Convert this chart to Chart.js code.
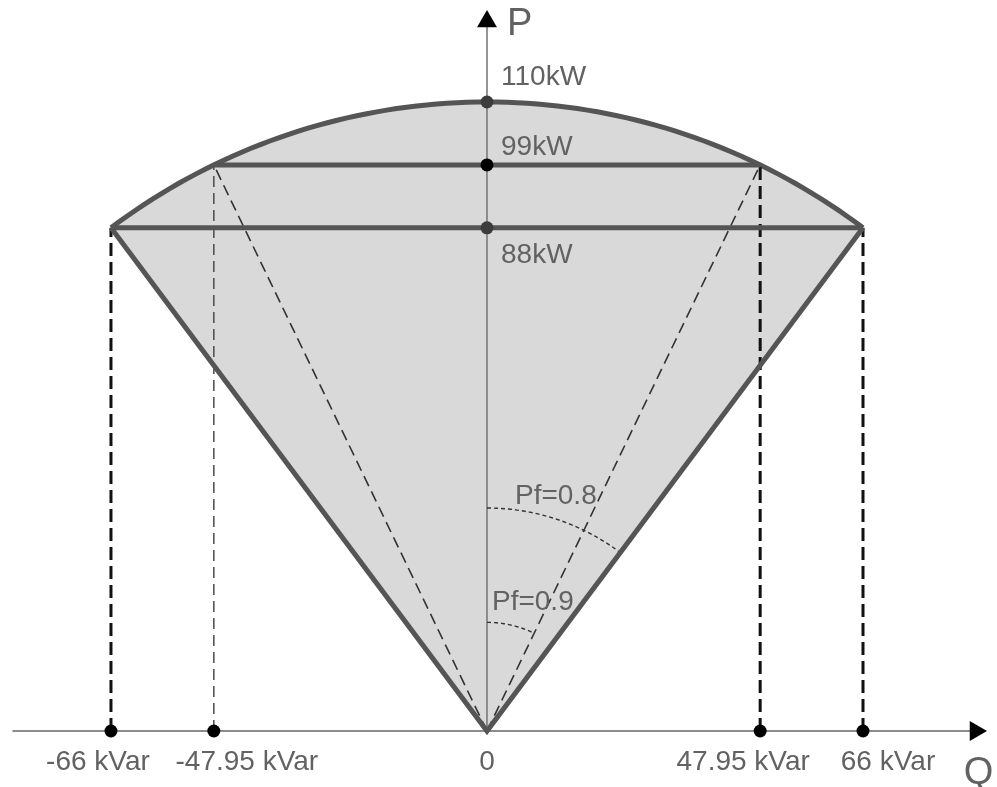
<!DOCTYPE html>
<html>
<head>
<meta charset="utf-8">
<script src="https://cdn.jsdelivr.net/npm/chart.js@4.4.1/dist/chart.umd.min.js"></script>
<style>
  html, body { margin: 0; padding: 0; background: #fff; }
  #wrap { width: 997px; height: 787px; position: relative; }
</style>
</head>
<body>
<div id="wrap"><canvas id="pqChart"></canvas></div>
<script>
// --- data ---
const sMax = 110;          // apparent power limit (kVA), arc radius
const pLimit = 88;         // P at Pf=0.8
const pMid = 99;           // P at Pf=0.9
const qLimit = 66;         // Q at Pf=0.8
const qMid = 47.95;        // Q at Pf=0.9

const qTicks = [-66, -47.95, 0, 47.95, 66];
const qTickLabels = ['-66 kVar', '-47.95 kVar', '0', '47.95 kVar', '66 kVar'];
const pTicks = [110, 99, 88];
const pTickLabels = ['110kW', '99kW', '88kW'];
const pfValues = [0.8, 0.9];
const pfLabels = ['Pf=0.8', 'Pf=0.9'];

// --- layout / style ---
const xRange = [-85.48, 89.52];
const yRange = [-9.79, 127.84];
const axisEnd = { qMin: -83.3, qMax: 85.75, pMax: 124.1 };
const pfArcRadius = [39, 19];
const qLabelDx = [-13, 33, 0, -17, 25];
const pLabelDy = [-25, -18, 27];
const pfLabelPos = [{ dx: 28, dy: -12 }, { dx: 5, dy: -20 }];

const lineGrey = '#555555';
const fillGrey = '#d9d9d9';
const axisGrey = '#8c8c8c';
const textGrey = '#626262';
const font = '"Liberation Sans", Arial, sans-serif';

// points along a circle arc centred on the origin, angle measured from the P axis
function arcPoints(r, fromDeg, toDeg, n) {
    const pts = [];
    for (let i = 0; i <= n; i++) {
        const a = (fromDeg + (toDeg - fromDeg) * i / n) * Math.PI / 180;
        pts.push({ x: r * Math.sin(a), y: r * Math.cos(a) });
    }
    return pts;
}

const edgeDeg = Math.atan2(qLimit, pLimit) * 180 / Math.PI;

function seg(data, color, width, dash, order) {
    return {
        data: data,
        borderColor: color,
        borderWidth: width,
        borderDash: dash || [],
        pointRadius: 0,
        fill: false,
        order: order
    };
}

const datasets = [
    // 0: outer arc, filled down to the V below it
    {
        data: arcPoints(sMax, -edgeDeg, edgeDeg, 80),
        borderColor: lineGrey,
        borderWidth: 5,
        backgroundColor: fillGrey,
        pointRadius: 0,
        fill: '+1',
        order: 50
    },
    // 1: V from origin
    seg([{ x: -qLimit, y: pLimit }, { x: 0, y: 0 }, { x: qLimit, y: pLimit }], lineGrey, 5, null, 12),
    // axes
    seg([{ x: axisEnd.qMin, y: 0 }, { x: axisEnd.qMax, y: 0 }], axisGrey, 2, null, 40),
    seg([{ x: 0, y: 0 }, { x: 0, y: axisEnd.pMax }], '#7a7a7a', 1.6, null, 40),
    // horizontal limits
    seg([{ x: -qLimit, y: pLimit }, { x: qLimit, y: pLimit }], lineGrey, 5, null, 10),
    seg([{ x: -qMid, y: pMid }, { x: qMid, y: pMid }], lineGrey, 5, null, 10),
    // dashed helpers
    seg([{ x: 0, y: 0 }, { x: -qMid, y: pMid }], '#333333', 1.6, [11, 6], 30),
    seg([{ x: 0, y: 0 }, { x: qMid, y: pMid }], '#333333', 1.6, [11, 6], 30),
    seg([{ x: -qMid, y: 0 }, { x: -qMid, y: pMid }], '#555555', 1.6, [11, 6], 30),
    seg([{ x: qMid, y: 0 }, { x: qMid, y: pMid }], '#111111', 3, [13, 6], 30),
    seg([{ x: -qLimit, y: 0 }, { x: -qLimit, y: pLimit }], '#111111', 3, [13, 6], 30),
    seg([{ x: qLimit, y: 0 }, { x: qLimit, y: pLimit }], '#111111', 3, [13, 6], 30),
    // power factor angle marks
    seg(arcPoints(pfArcRadius[0], 0, Math.acos(pfValues[0]) * 180 / Math.PI, 30), '#333333', 1.4, [4, 3], 25),
    seg(arcPoints(pfArcRadius[1], 0, Math.acos(pfValues[1]) * 180 / Math.PI, 20), '#333333', 1.4, [4, 3], 25),
    // arrow heads
    {
        data: [{ x: axisEnd.qMax, y: 0 }],
        showLine: false,
        pointStyle: 'triangle',
        rotation: 90,
        pointRadius: 11.5,
        backgroundColor: '#000',
        borderWidth: 0,
        order: 2
    },
    {
        data: [{ x: 0, y: axisEnd.pMax }],
        showLine: false,
        pointStyle: 'triangle',
        rotation: 0,
        pointRadius: 11.5,
        backgroundColor: '#000',
        borderWidth: 0,
        order: 2
    },
    // dots on the axes
    {
        data: qTicks.filter(q => q !== 0).map(q => ({ x: q, y: 0 })),
        showLine: false,
        pointRadius: 6.5,
        backgroundColor: '#000',
        borderWidth: 0,
        order: 0
    },
    {
        data: pTicks.map(p => ({ x: 0, y: p })),
        showLine: false,
        pointRadius: 6.5,
        backgroundColor: pTicks.map(p => (p === pMid ? '#000' : '#3c3c3c')),
        borderWidth: 0,
        order: 0
    }
];

const labelPlugin = {
    id: 'pqLabels',
    afterDatasetsDraw(chart) {
        const { ctx, scales: { x, y } } = chart;
        const x0 = x.getPixelForValue(0);
        const y0 = y.getPixelForValue(0);
        ctx.save();
        ctx.fillStyle = textGrey;
        ctx.textBaseline = 'middle';

        ctx.font = '28px ' + font;
        ctx.textAlign = 'center';
        qTicks.forEach((q, i) => {
            ctx.fillText(qTickLabels[i], x.getPixelForValue(q) + qLabelDx[i], y0 + 31);
        });

        ctx.textAlign = 'left';
        pTicks.forEach((p, i) => {
            ctx.fillText(pTickLabels[i], x0 + 14, y.getPixelForValue(p) + pLabelDy[i]);
        });

        pfValues.forEach((pf, i) => {
            const top = y.getPixelForValue(pfArcRadius[i]);
            ctx.fillText(pfLabels[i], x0 + pfLabelPos[i].dx, top + pfLabelPos[i].dy);
        });

        ctx.font = '38px ' + font;
        ctx.textAlign = 'left';
        ctx.fillText('P', x0 + 20, y.getPixelForValue(axisEnd.pMax) + 3);
        ctx.textAlign = 'center';
        ctx.fillText('Q', x.getPixelForValue(axisEnd.qMax) + 3, y0 + 42);
        ctx.restore();
    }
};

new Chart(document.getElementById('pqChart'), {
    type: 'line',
    data: { datasets: datasets },
    options: {
        responsive: true,
        maintainAspectRatio: false,
        animation: false,
        events: [],
        layout: { padding: 0, autoPadding: false },
        elements: { line: { tension: 0 } },
        scales: {
            x: { type: 'linear', min: xRange[0], max: xRange[1], display: false },
            y: { type: 'linear', min: yRange[0], max: yRange[1], display: false }
        },
        plugins: {
            legend: { display: false },
            tooltip: { enabled: false }
        }
    },
    plugins: [labelPlugin]
});
</script>
</body>
</html>
